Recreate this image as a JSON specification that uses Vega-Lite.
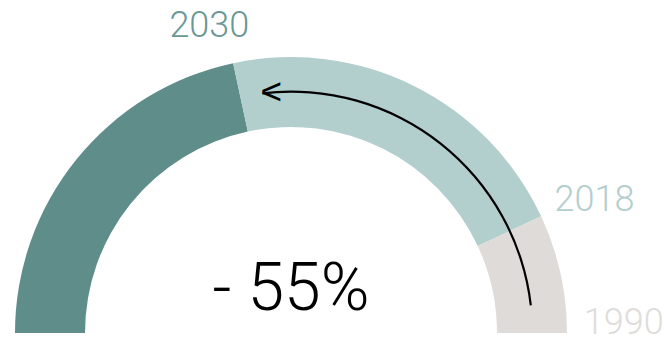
{
  "$schema": "https://vega.github.io/schema/vega-lite/v6.json",
  "width": 669,
  "height": 340,
  "autosize": {"type": "none"},
  "padding": 0,
  "background": "white",
  "config": {"view": {"stroke": null}},
  "datasets": {
    "segments": [
      {"segment": "2030 and beyond", "v": 77.9, "order": 1},
      {"segment": "2018 to 2030", "v": 77.1, "order": 2},
      {"segment": "1990 to 2018", "v": 25.0, "order": 3}
    ],
    "arrow": [{"from": 173.4, "to": 83.2}],
    "head": [{"glyph": "<", "at": 83.2}],
    "yearTop": [{"label": "2030", "at": 75.1}],
    "year2018": [{"label": "2018", "at": 153.3}],
    "year1990": [{"label": "1990", "at": 178.0}],
    "center": [{"label": "- 55%", "at": 90}]
  },
  "layer": [
    {
      "data": {"name": "segments"},
      "mark": {"type": "arc", "x": 291, "y": 333, "innerRadius": 206, "outerRadius": 276, "stroke": null},
      "encoding": {
        "theta": {"field": "v", "type": "quantitative", "stack": true, "scale": {"domain": [0, 180], "range": [-1.5708, 1.5708]}},
        "order": {"field": "order", "type": "quantitative"},
        "color": {"field": "segment", "type": "nominal", "legend": null,
          "scale": {"domain": ["2030 and beyond", "2018 to 2030", "1990 to 2018"], "range": ["#5f8d8a", "#b2cecd", "#dfdbd8"]}}
      }
    },
    {
      "data": {"name": "arrow"},
      "mark": {"type": "arc", "x": 291, "y": 333, "innerRadius": 240.3, "outerRadius": 242.5, "color": "#000000"},
      "encoding": {
        "theta": {"field": "from", "type": "quantitative", "stack": null, "scale": {"domain": [0, 180], "range": [-1.5708, 1.5708]}},
        "theta2": {"field": "to"}
      }
    },
    {
      "data": {"name": "head"},
      "mark": {"type": "text", "x": 291, "y": 333, "radius": 241.4, "align": "left", "baseline": "middle", "dx": -2, "dy": 0, "font": "Liberation Sans", "fontSize": 37, "color": "#000000"},
      "encoding": {
        "theta": {"field": "at", "type": "quantitative", "scale": {"domain": [0, 180], "range": [-1.5708, 1.5708]}},
        "text": {"field": "glyph"}
      }
    },
    {
      "data": {"name": "yearTop"},
      "mark": {"type": "text", "x": 291, "y": 333, "radius": 317.6, "align": "center", "baseline": "middle", "font": "Roboto", "fontWeight": 300, "fontSize": 36, "color": "#6a9895"},
      "encoding": {
        "theta": {"field": "at", "type": "quantitative", "scale": {"domain": [0, 180], "range": [-1.5708, 1.5708]}},
        "text": {"field": "label"}
      }
    },
    {
      "data": {"name": "year2018"},
      "mark": {"type": "text", "x": 291, "y": 333, "radius": 295, "align": "left", "baseline": "middle", "font": "Roboto", "fontWeight": 300, "fontSize": 36, "color": "#b2cecd"},
      "encoding": {
        "theta": {"field": "at", "type": "quantitative", "scale": {"domain": [0, 180], "range": [-1.5708, 1.5708]}},
        "text": {"field": "label"}
      }
    },
    {
      "data": {"name": "year1990"},
      "mark": {"type": "text", "x": 291, "y": 333, "radius": 293, "align": "left", "baseline": "middle", "font": "Roboto", "fontWeight": 300, "fontSize": 36, "color": "#e0dcda"},
      "encoding": {
        "theta": {"field": "at", "type": "quantitative", "scale": {"domain": [0, 180], "range": [-1.5708, 1.5708]}},
        "text": {"field": "label"}
      }
    },
    {
      "data": {"name": "center"},
      "mark": {"type": "text", "x": 291, "y": 333, "radius": 23, "align": "center", "baseline": "alphabetic", "font": "Roboto", "fontWeight": 300, "fontSize": 66, "color": "#000000"},
      "encoding": {
        "theta": {"field": "at", "type": "quantitative", "scale": {"domain": [0, 180], "range": [-1.5708, 1.5708]}},
        "text": {"field": "label"}
      }
    }
  ]
}
